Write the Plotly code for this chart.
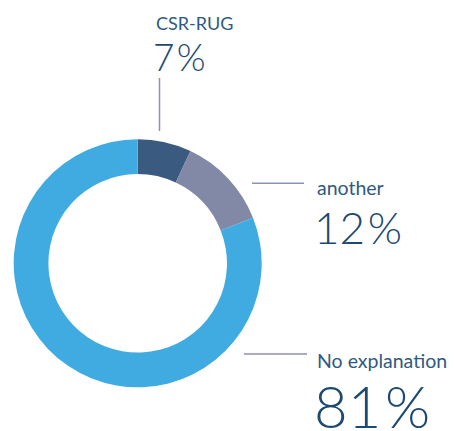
import plotly.graph_objects as go

labels = ["CSR-RUG", "another", "No explanation"]
values = [7, 12, 81]
colors = ["#3a5a80", "#8189a6", "#40abe0"]
pct_text = ["7\u200a%", "12\u200a%", "81\u200a%"]

# the page body has an 8px margin, so the figure is drawn 8px in
OFF = 8
W, H = 456 - OFF, 431 - OFF
def px(x):
    return (x - OFF) / W
def py(y):
    return 1 - (y - OFF) / H

cx, cy, r = 137.7, 263.3, 124
fig = go.Figure(go.Pie(
    labels=labels, values=values, hole=0.72, sort=False, direction="clockwise",
    rotation=0, marker=dict(colors=colors, line=dict(width=0)),
    textinfo="none", hoverinfo="label+percent", showlegend=False,
    domain=dict(x=[px(cx - r), px(cx + r)], y=[py(cy + r), py(cy - r)]),
))

txt_col = "#1d4a70"
lab_col = "#2f5a80"
line_col = "#8a93b0"
font = "Lato"

# (label x, label y-center, label size, pct y-center, pct size)
ann_pos = [
    (154, 23.5, 18, 56.5, 37),
    (315, 188, 19.5, 226.5, 44),
    (315, 360, 19.5, 405.5, 58),
]
anns = []
for lab, pt, (x, ly, ls, pyc, ps) in zip(labels, pct_text, ann_pos):
    anns.append(dict(text=lab, x=px(x), y=py(ly), xref="paper", yref="paper",
                     xanchor="left", yanchor="middle", showarrow=False,
                     font=dict(family=font, size=ls, color=lab_col)))
    anns.append(dict(text=pt, x=px(x - 3), y=py(pyc), xref="paper", yref="paper",
                     xanchor="left", yanchor="middle", showarrow=False,
                     font=dict(family=font, size=ps, color=txt_col, weight=300)))

shapes = [
    dict(type="line", xref="paper", yref="paper", x0=px(159.5), x1=px(159.5),
         y0=py(78), y1=py(131), line=dict(color=line_col, width=1.5)),
    dict(type="line", xref="paper", yref="paper", x0=px(252), x1=px(304),
         y0=py(183.3), y1=py(183.3), line=dict(color=line_col, width=1.5)),
    dict(type="line", xref="paper", yref="paper", x0=px(244), x1=px(307),
         y0=py(354), y1=py(354), line=dict(color=line_col, width=1.5)),
]

fig.update_layout(width=W, height=H, margin=dict(l=0, r=0, t=0, b=0),
                  paper_bgcolor="white", plot_bgcolor="white",
                  annotations=anns, shapes=shapes)
fig.write_html("out.html")
